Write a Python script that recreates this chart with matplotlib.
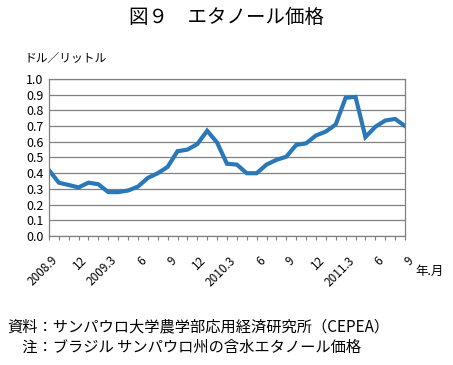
import matplotlib
matplotlib.use("Agg")
import matplotlib.pyplot as plt
from matplotlib.transforms import ScaledTranslation

plt.rcParams['font.family'] = ['Noto Sans CJK JP', 'DejaVu Sans']

# monthly ethanol price, 2008.9 - 2011.9 (USD / litre)
prices = [0.42, 0.34, 0.325, 0.31, 0.34, 0.33, 0.28, 0.28, 0.29, 0.315,
          0.37, 0.40, 0.44, 0.54, 0.55, 0.585, 0.67, 0.595, 0.46, 0.455,
          0.40, 0.40, 0.455, 0.485, 0.505, 0.58, 0.59, 0.64, 0.665, 0.71,
          0.88, 0.885, 0.63, 0.695, 0.735, 0.745, 0.70]
tick_labels = ["2008.9", "12", "2009.3", "6", "9", "12", "2010.3",
               "6", "9", "12", "2011.3", "6", "9"]
y_ticks = [0.0, 0.1, 0.2, 0.3, 0.4, 0.5, 0.6, 0.7, 0.8, 0.9, 1.0]

fig = plt.figure(figsize=(4.53, 3.65), dpi=100)
ax = fig.add_axes([0.108, 0.353, 0.786, 0.431])

x = list(range(len(prices)))
ax.plot(x, prices, color="#2a78b8", lw=3.0, solid_joinstyle="miter")

ax.set_xlim(0, len(prices) - 1)
ax.set_ylim(0, 1.0)
ax.set_yticks(y_ticks)
ax.set_yticklabels([f"{v:.1f}" for v in y_ticks], fontsize=9)
ax.grid(axis="y", color="#808080", lw=0.9)
ax.set_axisbelow(True)

labels = []
for i in x:
    labels.append(tick_labels[i // 3] if i % 3 == 0 else "")
ax.set_xticks(x)
ax.set_xticklabels(labels, rotation=45, ha="right", rotation_mode="anchor",
                   fontsize=8.5)
ax.tick_params(axis="x", length=3, color="#808080", pad=4)
ax.tick_params(axis="y", length=0, pad=4)
# push the slanted labels a bit right and down, like the original
shift = ScaledTranslation(2 / 100, -8 / 100, fig.dpi_scale_trans)
for lbl in ax.get_xticklabels():
    lbl.set_transform(lbl.get_transform() + shift)
for s in ax.spines.values():
    s.set_color("#808080")
    s.set_linewidth(0.9)

fig.text(0.5, 0.951, "図９　エタノール価格", ha="center", va="center", fontsize=14)
fig.text(0.055, 0.84, "ドル／リットル", ha="left", va="center", fontsize=8.5)
fig.text(0.918, 0.257, "年.月", ha="left", va="center", fontsize=9)
fig.text(0.016, 0.105, "資料：サンパウロ大学農学部応用経済研究所（CEPEA）",
         ha="left", va="center", fontsize=11)
fig.text(0.016, 0.048, "　注：ブラジル サンパウロ州の含水エタノール価格",
         ha="left", va="center", fontsize=11)

fig.savefig("out.png", dpi=100)
